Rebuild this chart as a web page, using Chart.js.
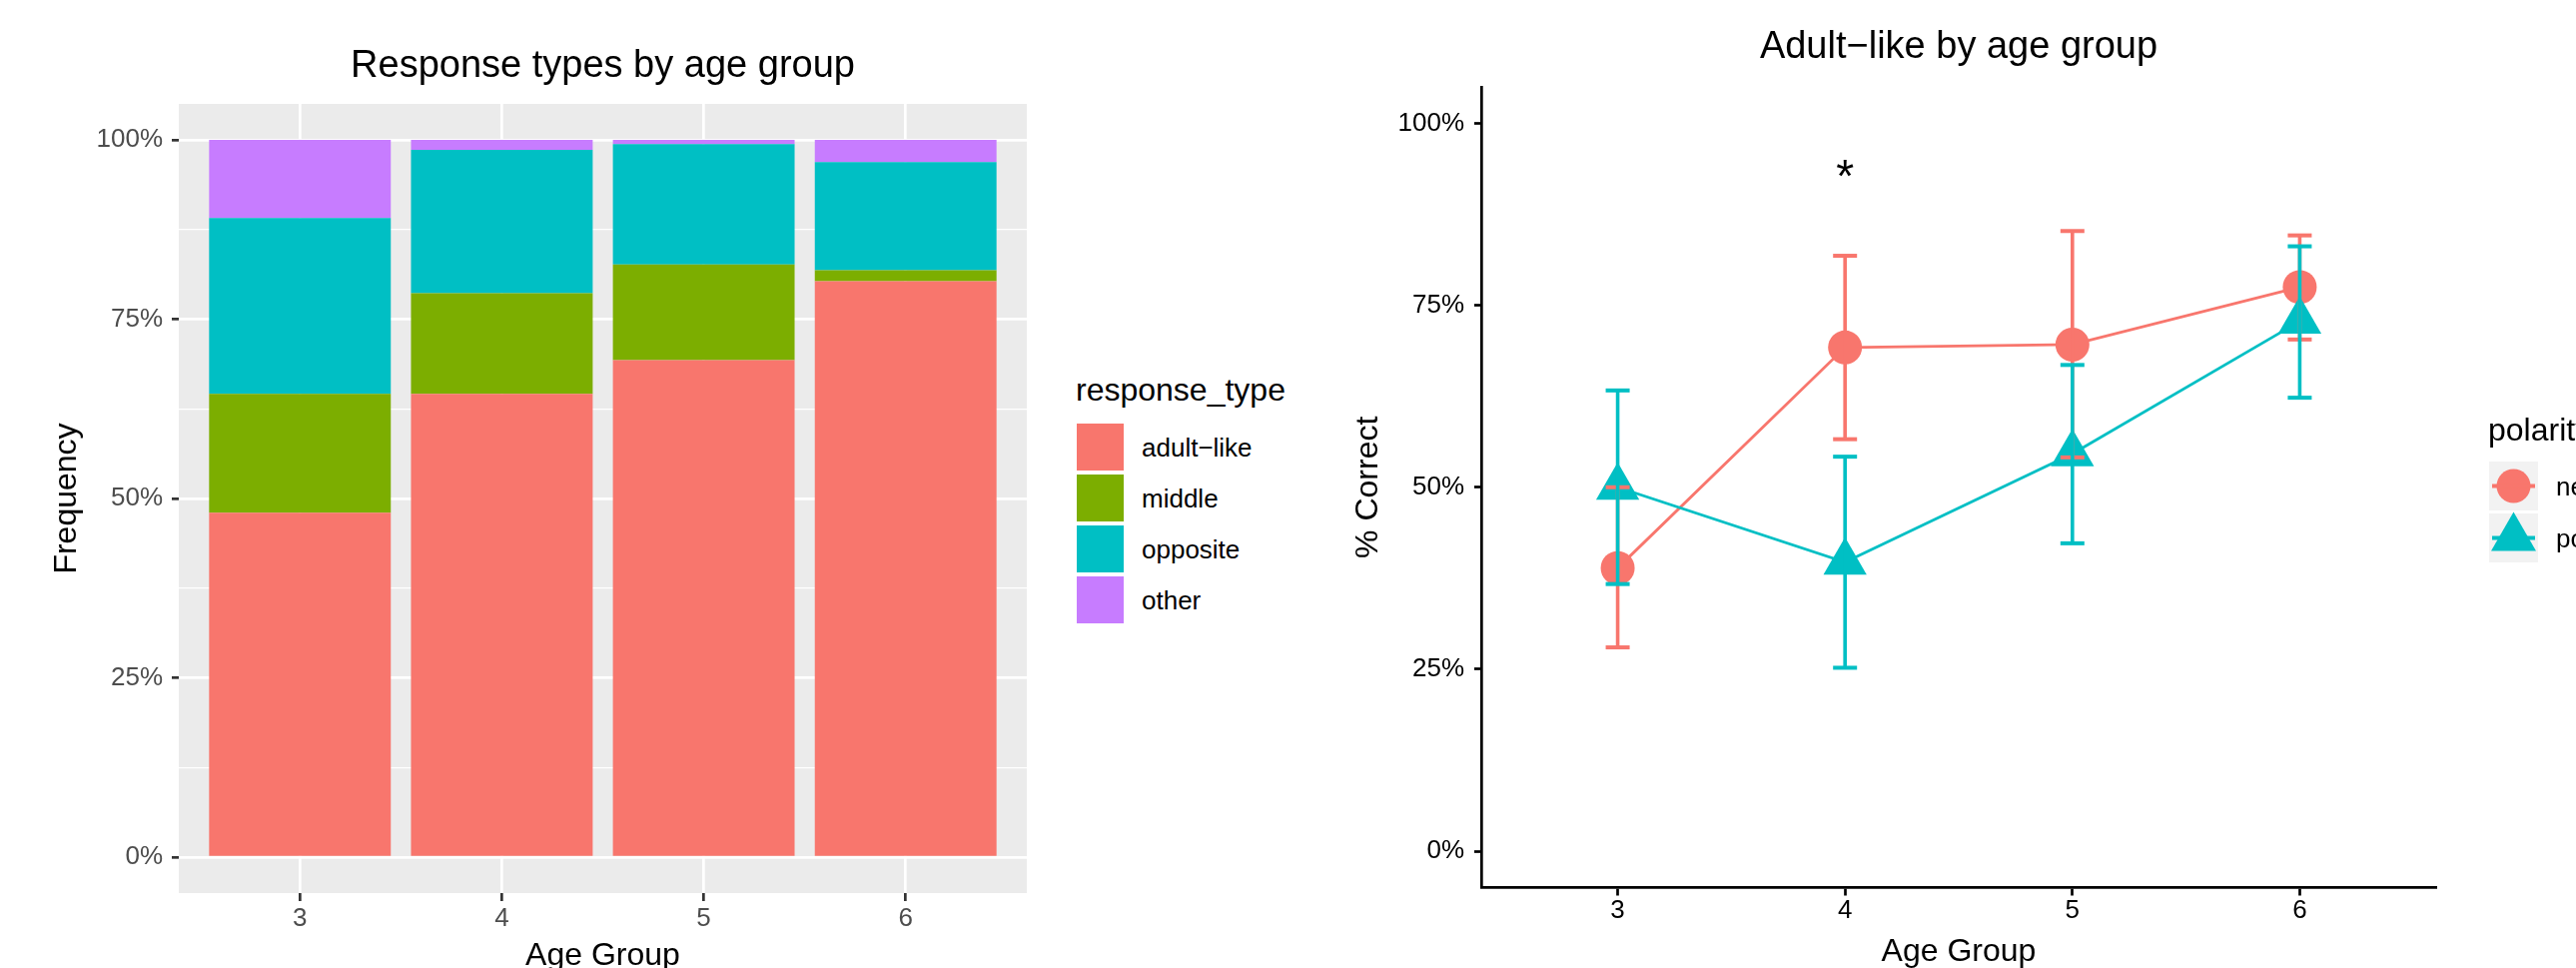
<!DOCTYPE html>
<html>
<head>
<meta charset="utf-8">
<script src="https://cdn.jsdelivr.net/npm/chart.js@4/dist/chart.umd.min.js"></script>
<style>
  html, body { margin: 0; padding: 0; background: #ffffff; }
  body { width: 2579px; height: 969px; overflow: hidden; position: relative;
         font-family: 'Liberation Sans', Arial, Helvetica, sans-serif; }
  canvas { position: absolute; top: 0; }
  #cLeft { left: 0; }
  #cRight { left: 1300px; }
  .t { position: absolute; line-height: 1; transform: translateY(-50%); white-space: nowrap; color: #000; }
  .key { position: absolute; }
</style>
</head>
<body>
<canvas id="cLeft" width="1060" height="1000"></canvas>
<canvas id="cRight" width="1279" height="1000"></canvas>
<div id="legLeft"></div>
<div id="legRight"></div>
<script>
// ---------------- data ----------------
const ageGroups = [3, 4, 5, 6];

// Left panel: response types (percent of responses)
const responseTypes = ['adult\u2212like', 'middle', 'opposite', 'other'];
const adultLikePct = [48.0, 64.6, 69.3, 80.3];
const middlePct    = [16.6, 14.0, 13.3, 1.5];
const oppositePct  = [24.5, 20.0, 16.8, 15.1];
const otherPct     = [10.9, 1.4, 0.6, 3.1];
const stackTicks   = [0, 12.5, 25, 37.5, 50, 62.5, 75, 87.5, 100];
const majorTicks   = [0, 25, 50, 75, 100];

// Right panel: % correct by polarity, with error bars
const polarities = ['negative', 'positive'];
const negMean = [38.9, 69.2, 69.6, 77.5];
const negLow  = [28.0, 56.6, 54.1, 70.3];
const negHigh = [50.0, 81.8, 85.2, 84.6];
const posMean = [50.0, 39.7, 54.6, 72.8];
const posLow  = [36.7, 25.2, 42.3, 62.3];
const posHigh = [63.3, 54.2, 66.8, 83.1];
const notes   = [{ age: 4, pct: 92.3, label: '*' }];

// ---------------- styles ----------------
const FONT = "'Liberation Sans', Arial, Helvetica, sans-serif";
Chart.defaults.font.family = FONT;
Chart.defaults.font.weight = 'normal';
const typeColors = ['#F8766D', '#7CAE00', '#00BFC4', '#C77CFF'];
const polColors = ['#F8766D', '#00BFC4'];
const polShapes = ['circle', 'triangle'];

const panelBg = {
  id: 'panelBg',
  beforeDraw(chart, args, opts) {
    if (!opts || !opts.color) return;
    const { ctx, chartArea } = chart;
    ctx.save();
    ctx.fillStyle = opts.color;
    ctx.fillRect(chartArea.left, chartArea.top, chartArea.right - chartArea.left, chartArea.bottom - chartArea.top);
    ctx.restore();
  }
};

const noteText = {
  id: 'noteText',
  afterDatasetsDraw(chart, args, opts) {
    if (!opts || !opts.items) return;
    const { ctx, scales } = chart;
    ctx.save();
    ctx.font = opts.size + 'px ' + FONT;
    ctx.fillStyle = '#000';
    ctx.textAlign = 'center';
    ctx.textBaseline = 'middle';
    opts.items.forEach(n => ctx.fillText(n.label, scales.x.getPixelForValue(n.age), scales.y.getPixelForValue(n.pct)));
    ctx.restore();
  }
};

const isMajor = c => c.tick && majorTicks.includes(c.tick.value);

// ---------------- left chart ----------------
const typeSeries = [adultLikePct, middlePct, oppositePct, otherPct];
new Chart(document.getElementById('cLeft'), {
  type: 'bar',
  data: {
    datasets: typeSeries.map((vals, k) => ({
      label: responseTypes[k],
      data: ageGroups.map((a, i) => ({ x: a, y: vals[i] })),
      backgroundColor: typeColors[k],
      borderWidth: 0,
      barPercentage: 0.9,
      categoryPercentage: 1.0
    }))
  },
  plugins: [panelBg],
  options: {
    responsive: false,
    animation: false,
    events: [],
    layout: { padding: { left: 0, right: 32, top: 0, bottom: 0 } },
    plugins: {
      legend: { display: false },
      tooltip: { enabled: false },
      panelBg: { color: '#EBEBEB' },
      title: {
        display: true, fullSize: false, text: 'Response types by age group',
        color: '#000', font: { size: 38, weight: 'normal' },
        padding: { top: 44, bottom: 14.4 }
      }
    },
    scales: {
      x: {
        type: 'linear', stacked: true, min: 2.4, max: 6.6, offset: false,
        afterBuildTicks: s => { s.ticks = ageGroups.map(v => ({ value: v })); },
        afterFit: s => { s.height = 106; },
        ticks: { color: '#4D4D4D', font: { size: 26 }, padding: 2, maxRotation: 0, autoSkip: false,
                 callback: v => String(v) },
        grid: { offset: false, color: '#FFFFFF', lineWidth: 2.7, tickColor: '#333333', tickWidth: 2.7, tickLength: 8 },
        border: { display: false },
        title: { display: true, text: 'Age Group', color: '#000', font: { size: 32 }, padding: { top: 0, bottom: 23.3 } }
      },
      y: {
        type: 'linear', stacked: true, min: -5, max: 105,
        afterBuildTicks: s => { s.ticks = stackTicks.map(v => ({ value: v })); },
        afterFit: s => { s.width = 179; },
        ticks: { color: '#4D4D4D', font: { size: 26 }, padding: 9, autoSkip: false,
                 callback: v => majorTicks.includes(v) ? v + '%' : '' },
        grid: { color: '#FFFFFF',
                lineWidth: c => isMajor(c) ? 2.7 : 1.35,
                tickColor: c => isMajor(c) ? '#333333' : 'rgba(0,0,0,0)',
                tickWidth: 2.7, tickLength: 7 },
        border: { display: false },
        title: { display: true, text: 'Frequency', color: '#000', font: { size: 32 }, padding: { top: 48.3, bottom: 0 } }
      }
    }
  }
});

// ---------------- right chart ----------------
const errData = (lo, hi) => ageGroups.flatMap((a, i) => [{ x: a, y: lo[i] }, { x: a, y: hi[i] }, { x: a, y: null }]);
const meanSets = [negMean, posMean];
const lowSets = [negLow, posLow];
const highSets = [negHigh, posHigh];
const pointSizes = [17, 25];

const rightDatasets = [];
polarities.forEach((p, k) => {
  rightDatasets.push({
    label: p,
    data: ageGroups.map((a, i) => ({ x: a, y: meanSets[k][i] })),
    borderColor: polColors[k], backgroundColor: polColors[k],
    borderWidth: 2.8, tension: 0,
    pointStyle: polShapes[k], pointRadius: pointSizes[k], pointBorderWidth: 0,
    pointBackgroundColor: polColors[k],
    order: 3 - k, clip: false
  });
  rightDatasets.push({
    label: p + ' error',
    data: errData(lowSets[k], highSets[k]),
    borderColor: polColors[k], backgroundColor: polColors[k],
    borderWidth: 3.6, spanGaps: false,
    pointStyle: 'line', pointRadius: 12, pointBorderWidth: 4,
    pointBorderColor: polColors[k],
    order: 1 - k, clip: false
  });
});

new Chart(document.getElementById('cRight'), {
  type: 'line',
  data: { datasets: rightDatasets },
  plugins: [noteText],
  options: {
    responsive: false,
    animation: false,
    events: [],
    layout: { padding: { left: 0, right: 140, top: 0, bottom: 0 } },
    plugins: {
      legend: { display: false },
      tooltip: { enabled: false },
      noteText: { items: notes, size: 46 },
      title: {
        display: true, fullSize: false, text: 'Adult\u2212like by age group',
        color: '#000', font: { size: 38, weight: 'normal' },
        padding: { top: 24.7, bottom: 16.7 }
      }
    },
    scales: {
      x: {
        type: 'linear', min: 2.4, max: 6.6, offset: false,
        afterBuildTicks: s => { s.ticks = ageGroups.map(v => ({ value: v })); },
        afterFit: s => { s.height = 111.5; },
        ticks: { color: '#000', font: { size: 26 }, padding: 0, maxRotation: 0, autoSkip: false,
                 callback: v => String(v) },
        grid: { drawOnChartArea: false, drawTicks: true, tickLength: 8, tickColor: '#000', tickWidth: 2.7 },
        border: { display: true, color: '#000', width: 2.7 },
        title: { display: true, text: 'Age Group', color: '#000', font: { size: 32 }, padding: { top: 0, bottom: 27.3 } }
      },
      y: {
        type: 'linear', min: -5, max: 105,
        afterBuildTicks: s => { s.ticks = majorTicks.map(v => ({ value: v })); },
        afterFit: s => { s.width = 183; },
        ticks: { color: '#000', font: { size: 26 }, padding: 10, autoSkip: false,
                 callback: v => v + '%' },
        grid: { drawOnChartArea: false, drawTicks: true, tickLength: 7, tickColor: '#000', tickWidth: 2.7 },
        border: { display: true, color: '#000', width: 2.7 },
        title: { display: true, text: '% Correct', color: '#000', font: { size: 32 }, padding: { top: 50.8, bottom: 0 } }
      }
    }
  }
});

// ---------------- HTML legends ----------------
(function () {
  const L = document.getElementById('legLeft');
  let h = '<div class="t" style="left:1077px;top:390px;font-size:32px">response_type</div>';
  responseTypes.forEach((t, k) => {
    const top = 424 + 51 * k;
    h += '<div class="key" style="left:1078px;top:' + top + 'px;width:47px;height:47px;background:' + typeColors[k] + '"></div>';
    h += '<div class="t" style="left:1143px;top:' + (top + 23.5) + 'px;font-size:26px">' + t + '</div>';
  });
  L.innerHTML = h;

  const R = document.getElementById('legRight');
  let r = '<div class="t" style="left:2491px;top:430px;font-size:32px">polarity</div>';
  polarities.forEach((p, k) => {
    const top = 462 + 52 * k;
    let shape = '';
    if (polShapes[k] === 'circle') {
      shape = '<circle cx="24.5" cy="24.5" r="17" fill="' + polColors[k] + '"/>';
    } else {
      shape = '<polygon points="24.5,-1.5 47,37.5 2,37.5" fill="' + polColors[k] + '"/>';
    }
    r += '<svg class="key" style="left:2492px;top:' + top + 'px;overflow:visible" width="49" height="49">' +
         '<rect x="0" y="0" width="49" height="49" fill="#F2F2F2"/>' + shape +
         '<line x1="3" x2="46" y1="24.5" y2="24.5" stroke="' + polColors[k] + '" stroke-width="4"/></svg>';
    r += '<div class="t" style="left:2559px;top:' + (top + 24.5) + 'px;font-size:26px">' + p + '</div>';
  });
  R.innerHTML = r;
})();
</script>
</body>
</html>
